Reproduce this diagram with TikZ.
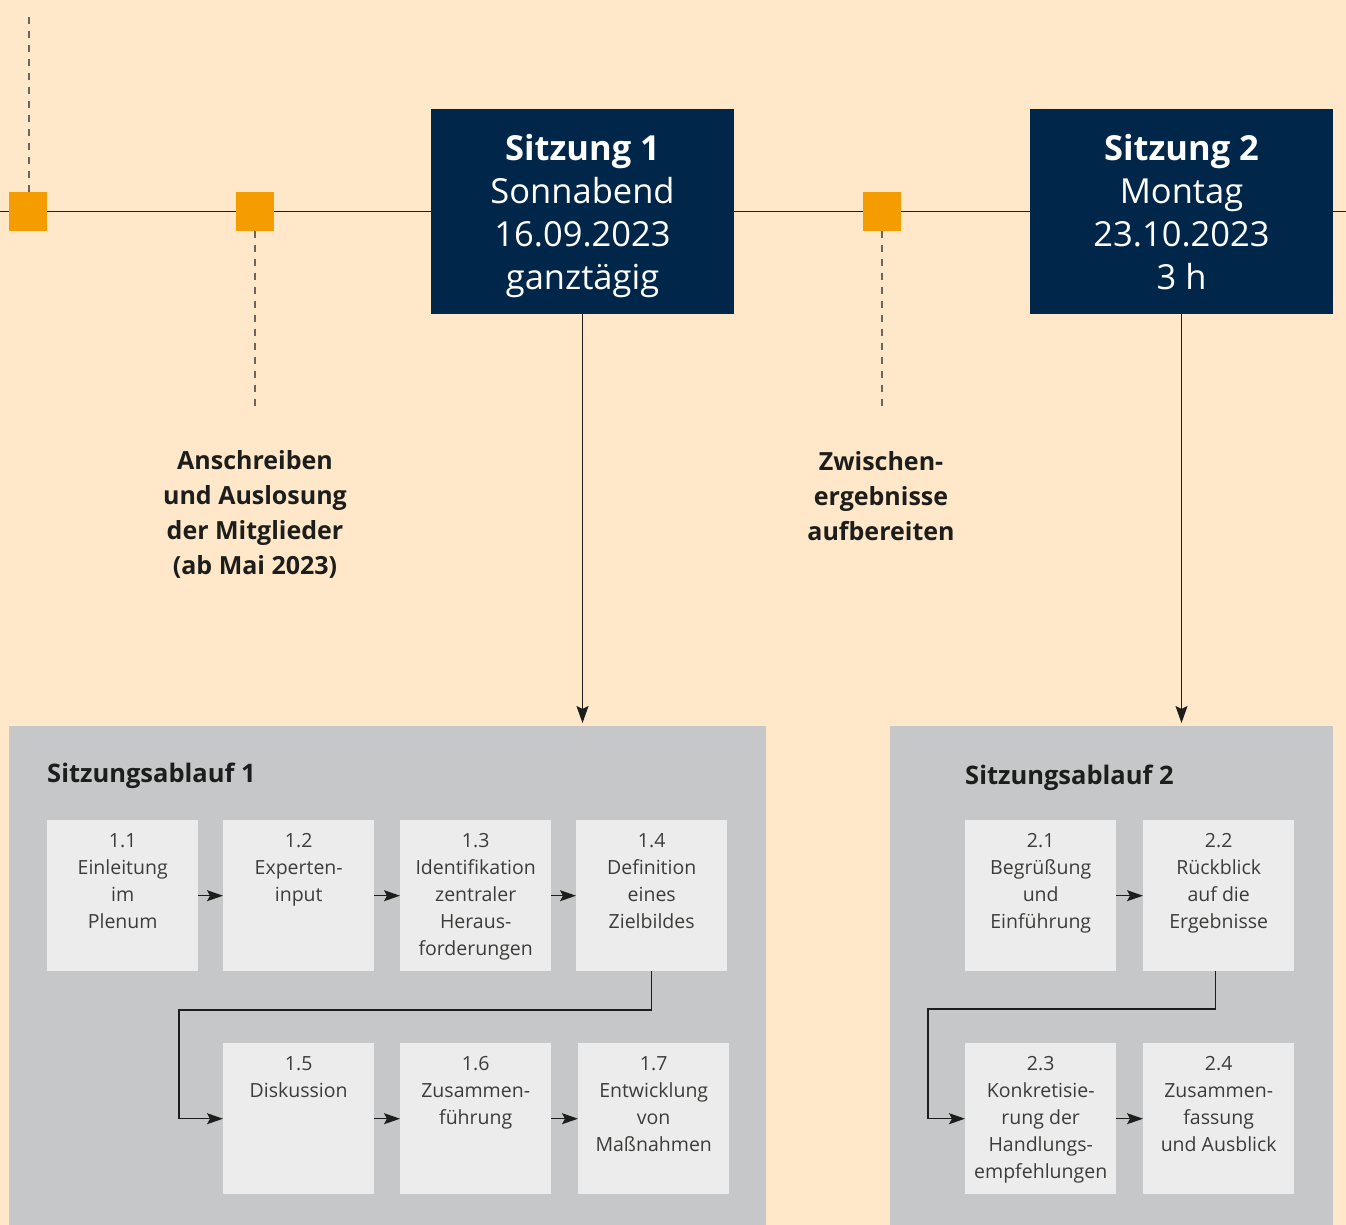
\documentclass[tikz,border=0pt]{standalone}
\usepackage{fontspec}
\setmainfont{Open Sans}
\usetikzlibrary{arrows.meta}
\definecolor{bg}{HTML}{FEE8C9}
\definecolor{navy}{HTML}{00264A}
\definecolor{orng}{HTML}{F59C00}
\definecolor{pgray}{HTML}{C6C7C9}
\definecolor{lgray}{HTML}{ECECEC}
\definecolor{btext}{HTML}{3C3C3B}
\definecolor{dtext}{HTML}{1D1D1B}
\definecolor{dashc}{HTML}{6B6560}
\newcommand\mybox[4]{\node[bx] (#1) at (#2,#3) {}; \node[bt] (#1t) at ([yshift=-13pt]#1.north) {#4};}
\begin{document}
\begin{tikzpicture}[x=1pt,y=-1pt,
  sq/.style={fill=orng,minimum size=38pt,inner sep=0pt},
  sbox/.style={fill=navy,minimum width=303pt,minimum height=204pt,inner sep=0pt},
  stxt/.style={text=white,inner sep=0pt,align=center,font=\fontsize{34.5}{43}\selectfont},
  tline/.style={draw=dtext,line width=1.4pt},
  dsh/.style={draw=dashc,line width=1.4pt,dash pattern=on 7pt off 7pt},
  bigarr/.style={draw=dtext,line width=1.4pt,-{Stealth[length=17pt,width=12pt,inset=3pt]}},
  arr/.style={draw=dtext,line width=1.3pt,-{Stealth[length=16pt,width=11pt,inset=3pt]}},
  panel/.style={fill=pgray,anchor=north west,inner sep=0pt},
  ttl/.style={anchor=base west,inner sep=0pt,text=dtext,font=\fontsize{25.5}{30}\selectfont\bfseries},
  bx/.style={fill=lgray,anchor=north west,minimum size=151pt,inner sep=0pt},
  bt/.style={anchor=north,inner sep=0pt,align=center,text=btext,font=\fontsize{19.5}{27}\selectfont},
  lab/.style={align=center,text=dtext,font=\fontsize{25}{35}\selectfont\bfseries}]
\fill[bg] (0,0) rectangle (1346,1225);
\useasboundingbox (0,0) rectangle (1346,1225);
% timeline nodes
\coordinate (L) at (0,211.5);
\coordinate (R) at (1346,211.5);
\node[sq] (q1) at (28,211.5) {};
\node[sq] (q2) at (255,211.5) {};
\node[sq] (q3) at (882,211.5) {};
\node[sbox] (s1) at (582.5,211.5) {};
\node[sbox] (s2) at (1181.5,211.5) {};
\node[stxt] (s1t) at ([yshift=-5pt]s1.center) {\textbf{Sitzung 1}\\Sonnabend\\16.09.2023\\ganztägig};
\node[stxt] (s2t) at ([yshift=-5pt]s2.center) {\textbf{Sitzung 2}\\Montag\\23.10.2023\\3 h\vphantom{g}};
\draw[tline] (L) -- (q1) -- (q2) -- (s1) -- (q3) -- (s2) -- (R);
% dashed
\coordinate (d1) at (29,11);
\coordinate (d2) at (255,411);
\coordinate (d3) at (882,411);
\draw[dsh] ([xshift=1pt]q1.north) -- (d1);
\draw[dsh] (q2.south) -- (d2);
\draw[dsh] (q3.south) -- (d3);
% labels
\node[lab] (l1) at (255,514) {Anschreiben\\und Auslosung\\der Mitglieder\\(ab Mai 2023)};
\node[lab] (l2) at (881,496) {Zwischen-\\ergebnisse\\aufbereiten};
% panels
\node[panel,minimum width=757pt,minimum height=499pt] (p1) at (9,726) {};
\node[panel,minimum width=443pt,minimum height=499pt] (p2) at (890,726) {};
\coordinate (a1) at (582.5,723);
\coordinate (a2) at (1181.5,723);
\draw[bigarr] (s1.south) -- (a1);
\draw[bigarr] (s2.south) -- (a2);
\node[ttl] (t1) at (47,782) {Sitzungsablauf 1};
\node[ttl] (t2) at (965,784) {Sitzungsablauf 2};
% boxes
\mybox{b11}{47}{820}{1.1\\Einleitung\\im\\Plenum}
\mybox{b12}{223}{820}{1.2\\Experten-\\input}
\mybox{b13}{400}{820}{1.3\\Identifikation\\zentraler\\Heraus-\\forderungen}
\mybox{b14}{576}{820}{1.4\\Definition\\eines\\Zielbildes}
\mybox{b15}{223}{1043}{1.5\\Diskussion}
\mybox{b16}{400}{1043}{1.6\\Zusammen-\\führung}
\mybox{b17}{578}{1043}{1.7\\Entwicklung\\von\\Maßnahmen}
\mybox{b21}{965}{820}{2.1\\Begrüßung\\und\\Einführung}
\mybox{b22}{1143}{820}{2.2\\Rückblick\\auf die\\Ergebnisse}
\mybox{b23}{965}{1043}{2.3\\Konkretisie-\\rung der\\Handlungs-\\empfehlungen}
\mybox{b24}{1143}{1043}{2.4\\Zusammen-\\fassung\\und Ausblick}
% arrows
\draw[arr] (b11) -- (b12);
\draw[arr] (b12) -- (b13);
\draw[arr] (b13) -- (b14);
\draw[arr] (b15) -- (b16);
\draw[arr] (b16) -- (b17);
\draw[arr] (b21) -- (b22);
\draw[arr] (b23) -- (b24);
\coordinate (c1) at (179,1010);
\coordinate (c2) at (928,1009);
\draw[arr] (b14.south) |- (c1) |- (b15.west);
\draw[arr] ([xshift=-3pt]b22.south) |- (c2) |- (b23.west);
\end{tikzpicture}
\end{document}
